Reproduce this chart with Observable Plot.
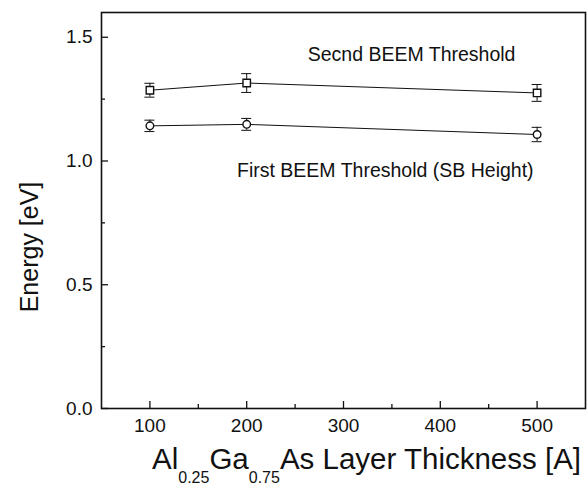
<!DOCTYPE html>
<html><head><meta charset="utf-8">
<script src="https://cdn.jsdelivr.net/npm/d3@7"></script>
<script src="https://cdn.jsdelivr.net/npm/@observablehq/plot@0.6"></script>
<style>body{margin:0;background:#fff;} svg{display:block;}</style>
</head><body><div id="chart"></div>
<script>
const thickness = [100, 200, 500];
const secondThreshold = [1.286, 1.315, 1.275];
const secondError = [0.028, 0.038, 0.034];
const firstThreshold = [1.142, 1.148, 1.107];
const firstError = [0.023, 0.024, 0.029];
const xMajorTicks = [100, 200, 300, 400, 500];
const xMinorTicks = [150, 250, 350, 450];
const yMajorTicks = [0, 0.5, 1.0, 1.5];
const yMinorTicks = [0.25, 0.75, 1.25];
const seriesLabels = ["Secnd BEEM Threshold", "First BEEM Threshold (SB Height)"];
const xTitleParts = [["Al", false], ["0.25", true], ["Ga", false], ["0.75", true], ["As Layer Thickness [A]", false]];
const yTitle = "Energy [eV]";

const second = thickness.map((x, i) => ({x, y: secondThreshold[i], lo: secondThreshold[i] - secondError[i], hi: secondThreshold[i] + secondError[i]}));
const first = thickness.map((x, i) => ({x, y: firstThreshold[i], lo: firstThreshold[i] - firstError[i], hi: firstThreshold[i] + firstError[i]}));
const annotations = [
  {x: 263, y: 1.403, text: seriesLabels[0]},
  {x: 190, y: 0.934, text: seriesLabels[1]}
];

const font = "'Liberation Sans', Arial, Helvetica, sans-serif";

function errorMarks(data, symbol, r) {
  return [
    Plot.ruleX(data, {x: "x", y1: "lo", y2: "hi", stroke: "#111", strokeWidth: 1}),
    Plot.ruleY(data, {y: "hi", x1: "x", x2: "x", insetLeft: -5, insetRight: -5, stroke: "#111", strokeWidth: 1}),
    Plot.ruleY(data, {y: "lo", x1: "x", x2: "x", insetLeft: -5, insetRight: -5, stroke: "#111", strokeWidth: 1}),
    Plot.line(data, {x: "x", y: "y", stroke: "#111", strokeWidth: 1}),
    Plot.dot(data, {x: "x", y: "y", symbol, r, fill: "white", stroke: "#111", strokeWidth: 1.4})
  ];
}

const svg = Plot.plot({
  width: 587,
  height: 487,
  marginLeft: 101,
  marginRight: 2,
  marginTop: 12,
  marginBottom: 79,
  style: {fontFamily: font, background: "white", color: "#111"},
  x: {domain: [50, 550], label: null},
  y: {domain: [0, 1.6], label: null},
  marks: [
    Plot.axisX(xMajorTicks, {tickSize: -7, tickPadding: 17, fontSize: 19, tickFormat: d3.format("d"), strokeWidth: 1.3}),
    Plot.axisX(xMinorTicks, {tickSize: -4, tickFormat: () => "", strokeWidth: 1.3}),
    Plot.axisY(yMajorTicks, {tickSize: -7, tickPadding: 16, fontSize: 19, tickFormat: d3.format(".1f"), strokeWidth: 1.3}),
    Plot.axisY(yMinorTicks, {tickSize: -4, tickFormat: () => "", strokeWidth: 1.3}),
    Plot.frame({stroke: "#111", strokeWidth: 1.6}),
    ...errorMarks(second, "square", 4.2),
    ...errorMarks(first, "circle", 3.8),
    Plot.text(annotations, {x: "x", y: "y", text: "text", textAnchor: "start", lineAnchor: "bottom", fontSize: 19.5, fill: "#111"})
  ]
});

const s = d3.select(svg);
// x-axis title with subscripts
const xt = s.append("text")
  .attr("x", 152).attr("y", 469)
  .attr("text-anchor", "start")
  .attr("font-family", font).attr("font-size", 29.5).attr("fill", "#111");
let shifted = false;
for (const [t, sub] of xTitleParts) {
  const ts = xt.append("tspan").text(t);
  if (sub) { ts.attr("font-size", 16).attr("dy", 14); shifted = true; }
  else if (shifted) { ts.attr("dy", -14); shifted = false; }
}
// y-axis title
s.append("text")
  .attr("transform", "translate(38,247) rotate(-90)")
  .attr("text-anchor", "middle")
  .attr("font-family", font).attr("font-size", 25).attr("fill", "#111")
  .text(yTitle);

document.getElementById("chart").appendChild(svg);
</script>
</body></html>
